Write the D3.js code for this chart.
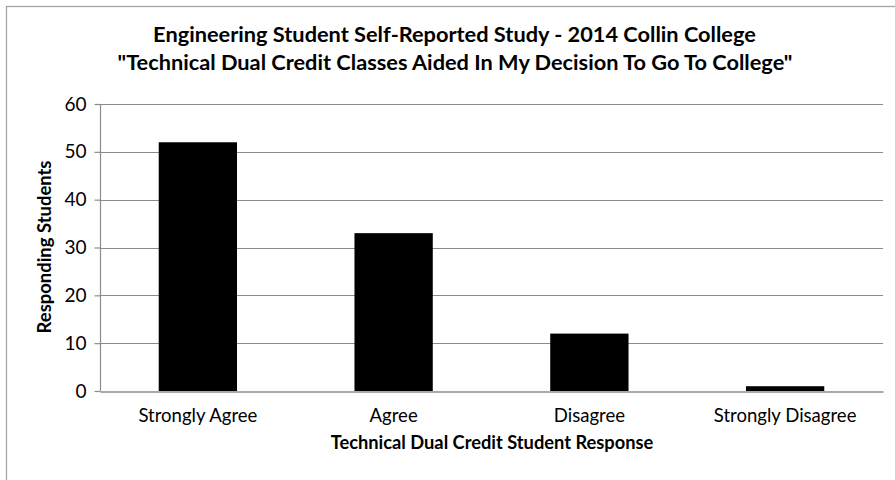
<!DOCTYPE html>
<html><head><meta charset="utf-8">
<script src="https://cdn.jsdelivr.net/npm/d3@7"></script>
<style>html,body{margin:0;padding:0;background:#fff;}svg{display:block;}</style>
</head><body>
<script>
const categories = ["Strongly Agree", "Agree", "Disagree", "Strongly Disagree"];
const values = [52, 33, 12, 1];
const yTicks = [0, 10, 20, 30, 40, 50, 60];
const titleLines = ["Engineering Student Self-Reported Study - 2014 Collin College",
  "\"Technical Dual Credit Classes Aided In My Decision To Go To College\""];
const xTitle = "Technical Dual Credit Student Response";
const yTitle = "Responding Students";

const W = 895, H = 480;
const FONT = "Lato, 'Open Sans', sans-serif";
const svg = d3.select("body").append("svg").attr("width", W).attr("height", H);
svg.append("rect").attr("width", W).attr("height", H).attr("fill", "#fff");
svg.append("rect").attr("x", 6.5).attr("y", 6.5).attr("width", W + 20).attr("height", H + 20)
  .attr("fill", "none").attr("stroke", "#a6a6a6").attr("stroke-width", 1.3);

const m = {left: 100, right: 883, top: 104, bottom: 391};
const x = d3.scaleBand().domain(categories).range([m.left, m.right]).paddingInner(0.6).paddingOuter(0.3);
const y = d3.scaleLinear().domain([0, 60]).range([m.bottom, m.top]);

function fit(sel, target) {
  const len = sel.node().getComputedTextLength();
  const fs = parseFloat(sel.attr("font-size"));
  sel.attr("font-size", fs * target / len);
  return fs * target / len;
}

// gridlines
svg.append("g").selectAll("line").data(yTicks.filter(d => d > 0)).join("line")
  .attr("x1", m.left).attr("x2", m.right)
  .attr("y1", d => Math.round(y(d)) + 0.5).attr("y2", d => Math.round(y(d)) + 0.5)
  .attr("stroke", "#8c8c8c").attr("stroke-width", 1.2);

// y axis
const yAxis = svg.append("g").attr("transform", `translate(${m.left + 0.5},0)`)
  .call(d3.axisLeft(y).tickValues(yTicks).tickSize(6).tickPadding(8).tickFormat(d3.format("d")));
yAxis.select(".domain").attr("stroke", "#8c8c8c").attr("stroke-width", 1.2).attr("d", `M0,${m.top}V${m.bottom}`);
yAxis.selectAll(".tick line").attr("stroke", "#8c8c8c").attr("stroke-width", 1.2);
yAxis.selectAll(".tick text").attr("font-family", FONT).attr("font-size", 15).attr("fill", "#000");

// bars
svg.append("g").selectAll("rect").data(categories).join("rect")
  .attr("x", d => x(d)).attr("width", x.bandwidth())
  .attr("y", (d, i) => y(values[i])).attr("height", (d, i) => y(0) - y(values[i]))
  .attr("fill", "#000");

// x axis
const xAxis = svg.append("g").attr("transform", `translate(0,${Math.round(m.bottom) + 0.5})`)
  .call(d3.axisBottom(x).tickSize(0).tickPadding(22));
xAxis.select(".domain").attr("stroke", "#8c8c8c").attr("stroke-width", 1.3);
xAxis.selectAll(".tick text").attr("font-family", FONT).attr("font-size", 15).attr("fill", "#000")
  .attr("dy", 0).attr("y", 30);
let xfs = 15;
xAxis.selectAll(".tick text").each(function(d, i) {
  if (i === 0) xfs = fit(d3.select(this), 119);
});
xAxis.selectAll(".tick text").attr("font-size", xfs);
yAxis.selectAll(".tick text").attr("font-size", xfs + 0.5);

// titles
const t1 = svg.append("text").attr("x", 454.5).attr("y", 42).attr("text-anchor", "middle")
  .attr("font-family", FONT).attr("font-weight", "bold").attr("font-size", 20).attr("fill", "#000").text(titleLines[0]);
const tfs = fit(t1, 603);
svg.append("text").attr("x", 455).attr("y", 70).attr("text-anchor", "middle")
  .attr("font-family", FONT).attr("font-weight", "bold").attr("font-size", tfs).attr("fill", "#000").text(titleLines[1]);

const xt = svg.append("text").attr("x", 492).attr("y", 449).attr("text-anchor", "middle")
  .attr("font-family", FONT).attr("font-weight", "bold").attr("font-size", 15).attr("fill", "#000").text(xTitle);
fit(xt, 323);

const yt = svg.append("text").attr("transform", "translate(51,247) rotate(-90)").attr("text-anchor", "middle")
  .attr("font-family", FONT).attr("font-weight", "bold").attr("font-size", 15).attr("fill", "#000").text(yTitle);
fit(yt, 173);
</script>
</body></html>
